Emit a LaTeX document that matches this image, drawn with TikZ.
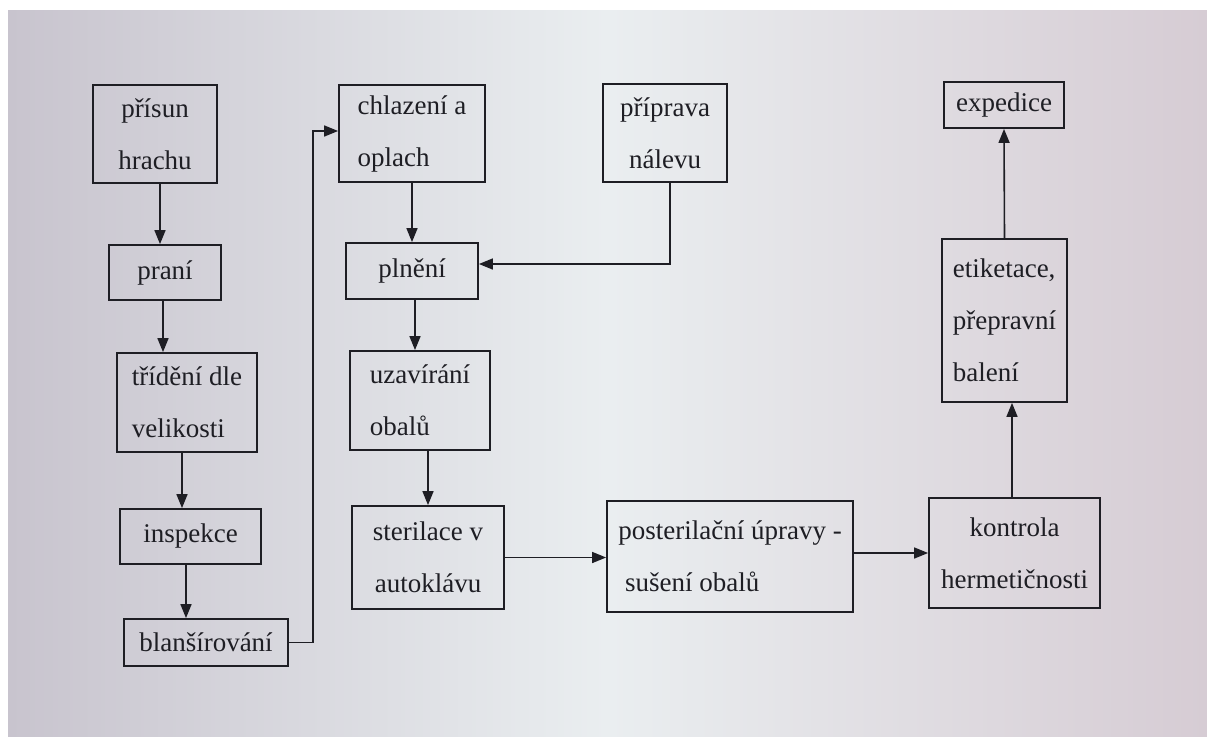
\documentclass[tikz,border=0pt]{standalone}
\usepackage{fontspec}
\setmainfont{Liberation Serif}
\usetikzlibrary{arrows.meta}
\definecolor{bgleft}{RGB}{200,196,206}
\definecolor{bgmid}{RGB}{234,238,240}
\definecolor{bgright}{RGB}{214,204,212}
\definecolor{ink}{RGB}{30,30,36}
\begin{document}
\begin{tikzpicture}[x=1pt,y=-1pt,
    box/.style={draw=ink,line width=1.8pt,text=ink,inner xsep=6pt,inner ysep=0pt,align=left,
      font=\fontsize{27}{52}\selectfont},
    arr/.style={draw=ink,line width=1.6pt,-{Triangle[length=14pt,width=11pt]}}]
    \useasboundingbox (0,0) rectangle (1207,736);
    \fill[white] (0,0) rectangle (1207,736);
    \shade[left color=bgleft,right color=bgright,middle color=bgmid] (8,10) rectangle (1207,736);
    \node[box,align=center,minimum width=124pt,minimum height=98pt] (prisun) at (155,134) {přísun\\hrachu};
    \node[box,minimum width=112pt,minimum height=55pt] (prani) at (165,272.5) {praní};
    \node[box,minimum width=140pt,minimum height=99pt] (trideni) at (187,402.5) {třídění dle\\velikosti};
    \node[box,minimum width=141pt,minimum height=55pt] (inspekce) at (190.5,536.5) {inspekce};
    \node[box,minimum width=164pt,minimum height=47pt] (blansirovani) at (206,642.5) {blanšírování};
    \node[box,minimum width=146pt,minimum height=97pt] (chlazeni) at (412,133.5) {chlazení a\\oplach};
    \node[box,minimum width=132pt,minimum height=56pt] (plneni) at (412,271) {plnění};
    \node[box,minimum width=140pt,minimum height=99pt] (uzavirani) at (420,400.5) {uzavírání\\obalů};
    \node[box,align=center,minimum width=152pt,minimum height=103pt] (sterilace) at (428,557.5) {sterilace v\\autoklávu};
    \node[box,align=center,minimum width=124pt,minimum height=98pt] (priprava) at (665,133) {příprava\\nálevu};
    \node[box,minimum width=120pt,minimum height=46pt] (expedice) at (1004,105) {expedice};
    \node[box,minimum width=125pt,minimum height=163pt] (etiketace) at (1004.5,320.5) {etiketace,\\přepravní\\balení};
    \node[box,minimum width=246pt,minimum height=111pt] (posterilacni) at (730,556.5) {posterilační úpravy -\\\ sušení obalů};
    \node[box,align=center,inner xsep=2pt,minimum width=171pt,minimum height=110pt] (kontrola) at (1014.5,553) {kontrola\\hermetičnosti};
    \draw[arr] ([xshift=5]prisun.south) -- ([xshift=5]prisun.south |- prani.north);
    \draw[arr] ([xshift=-2]prani.south) -- ([xshift=-2]prani.south |- trideni.north);
    \draw[arr] ([xshift=-5]trideni.south) -- ([xshift=-5]trideni.south |- inspekce.north);
    \draw[arr] ([xshift=-4.5]inspekce.south) -- ([xshift=-4.5]inspekce.south |- blansirovani.north);
    \draw[arr] (blansirovani.east) -- ++(24,0) |- ([yshift=2.5]chlazeni.west);
    \draw[arr] (chlazeni.south) -- (plneni.north);
    \draw[arr] ([xshift=5]priprava.south) |- ([yshift=7]plneni.east);
    \draw[arr] ([xshift=3]plneni.south) -- ([xshift=3]plneni.south |- uzavirani.north);
    \draw[arr] (uzavirani.south -| sterilace) -- (sterilace.north);
    \draw[arr] (sterilace.east) -- (sterilace.east -| posterilacni.west);
    \draw[arr] (posterilacni.east |- kontrola) -- (kontrola.west);
    \draw[arr] ([xshift=-2.5]kontrola.north) -- ([xshift=-2.5]kontrola.north |- etiketace.south);
    \draw[arr] (etiketace.north) -- (expedice.south);
\end{tikzpicture}
\end{document}
